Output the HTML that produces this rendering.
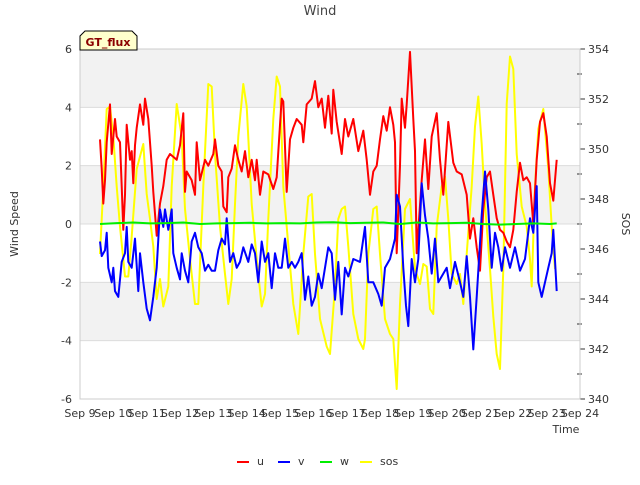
<!DOCTYPE html>
<html><head><meta charset="utf-8"><style>
body{margin:0;background:#fff;font-family:"Liberation Sans",sans-serif}
text{font-family:"DejaVu Sans","Liberation Sans",sans-serif}
</style></head><body>
<svg id="chart" width="640" height="480" xmlns="http://www.w3.org/2000/svg">
<text x="320" y="15" text-anchor="middle" font-size="13" fill="#444">Wind</text>
<g id="bands"></g><g id="axes"></g><g id="series"></g>
<text transform="translate(18,224) rotate(-90)" text-anchor="middle" font-size="11" fill="#333">Wind Speed</text>
<text transform="translate(622,224) rotate(90)" text-anchor="middle" font-size="11" fill="#333">SOS</text>
<text x="566" y="433" text-anchor="middle" font-size="11" fill="#333">Time</text>
<g>
<path d="M80,50 L80,36 L85,31 L132,31 L137,36 L137,50 Z" fill="#ffffcc" stroke="#000" stroke-width="1"/>
<text x="108" y="46" text-anchor="middle" font-size="11" font-weight="bold" fill="#8b0000">GT_flux</text>
</g>
<g id="legend"></g>
</svg>
<script>
const uDays=[9.6,9.65,9.7,9.75,9.8,9.9,9.95,10.05,10.1,10.2,10.25,10.3,10.35,10.4,10.5,10.55,10.6,10.65,10.7,10.8,10.9,10.95,11.05,11.15,11.2,11.3,11.4,11.5,11.6,11.7,11.9,12.0,12.1,12.15,12.2,12.35,12.45,12.5,12.6,12.75,12.85,13.0,13.05,13.15,13.25,13.3,13.4,13.45,13.55,13.65,13.75,13.85,13.95,14.05,14.15,14.25,14.3,14.4,14.5,14.65,14.8,14.9,15.0,15.05,15.1,15.2,15.3,15.4,15.5,15.65,15.7,15.8,15.95,16.05,16.15,16.25,16.35,16.45,16.55,16.6,16.7,16.85,16.95,17.05,17.2,17.35,17.5,17.6,17.7,17.8,17.9,18.0,18.1,18.2,18.3,18.4,18.45,18.5,18.6,18.65,18.75,18.8,18.9,19.0,19.05,19.1,19.25,19.35,19.45,19.55,19.7,19.8,19.9,20.05,20.2,20.3,20.45,20.6,20.7,20.8,20.9,21.0,21.1,21.2,21.3,21.4,21.5,21.6,21.7,21.8,21.9,22.0,22.1,22.2,22.3,22.4,22.5,22.6,22.7,22.8,22.9,23.0,23.1,23.2,23.3];
const uVals=[2.9,1.9,0.7,1.5,2.8,4.1,2.4,3.6,3.0,2.8,1.3,-0.2,1.0,3.4,2.2,2.5,1.4,2.7,3.3,4.1,3.4,4.3,3.6,2.0,1.1,-0.4,0.7,1.3,2.2,2.4,2.2,2.7,3.8,1.1,1.8,1.5,1.0,2.8,1.5,2.2,2.0,2.4,2.9,2.0,1.8,0.6,0.4,1.6,1.9,2.7,2.2,1.8,2.5,1.6,2.2,1.5,2.2,1.0,1.8,1.7,1.2,1.6,3.4,4.3,4.2,1.1,2.9,3.3,3.6,3.4,2.8,4.1,4.3,4.9,4.0,4.3,3.3,4.4,3.1,4.6,3.5,2.4,3.6,3.0,3.6,2.5,3.2,2.2,1.0,1.8,2.0,2.9,3.7,3.2,4.0,3.4,2.8,-1.0,2.0,4.3,3.3,4.1,5.9,3.6,2.5,-1.0,1.5,2.9,1.2,3.0,3.8,2.2,1.0,3.5,2.1,1.8,1.7,1.0,-0.5,0.2,-0.8,-1.6,0.5,1.6,1.8,1.0,0.2,-0.2,-0.3,-0.6,-0.8,-0.2,1.1,2.1,1.5,1.6,1.4,0.0,2.2,3.5,3.8,3.0,1.4,0.8,2.2];
const vDays=[9.6,9.65,9.75,9.8,9.85,9.95,10.0,10.05,10.15,10.25,10.35,10.4,10.45,10.55,10.65,10.75,10.8,10.9,11.0,11.1,11.2,11.3,11.4,11.5,11.55,11.65,11.75,11.8,11.9,12.0,12.05,12.15,12.25,12.35,12.45,12.55,12.65,12.75,12.85,12.95,13.05,13.15,13.25,13.35,13.4,13.5,13.6,13.7,13.8,13.9,14.05,14.15,14.25,14.35,14.45,14.55,14.65,14.75,14.85,14.95,15.05,15.15,15.25,15.35,15.45,15.55,15.65,15.75,15.85,15.95,16.05,16.15,16.25,16.35,16.45,16.55,16.65,16.75,16.85,16.95,17.05,17.2,17.4,17.55,17.65,17.8,17.95,18.05,18.15,18.3,18.45,18.5,18.6,18.7,18.78,18.85,18.95,19.05,19.15,19.25,19.35,19.45,19.55,19.65,19.75,19.9,20.0,20.1,20.25,20.4,20.5,20.6,20.7,20.8,20.9,21.05,21.15,21.25,21.35,21.45,21.55,21.65,21.75,21.9,22.05,22.2,22.35,22.5,22.6,22.7,22.75,22.85,22.95,23.05,23.15,23.2,23.3];
const vVals=[-0.6,-1.1,-0.9,-0.3,-1.5,-2.0,-1.5,-2.3,-2.5,-1.3,-1.0,-0.1,-1.3,-1.5,-0.5,-2.3,-1.0,-2.0,-2.9,-3.3,-2.5,-1.5,0.5,-0.1,0.5,-0.2,0.5,-1.0,-1.5,-1.9,-1.0,-1.6,-2.0,-0.6,-0.3,-0.8,-1.0,-1.6,-1.4,-1.6,-1.6,-0.9,-0.5,-0.7,0.2,-1.3,-1.0,-1.5,-1.3,-0.8,-1.3,-0.7,-1.0,-2.0,-0.6,-1.3,-1.0,-2.2,-1.0,-1.5,-1.5,-0.5,-1.5,-1.3,-1.5,-1.3,-1.0,-2.6,-1.8,-2.8,-2.5,-1.7,-2.2,-1.5,-0.8,-1.0,-2.6,-1.3,-3.1,-1.5,-1.8,-1.2,-1.3,-0.1,-2.0,-2.0,-2.4,-2.8,-1.5,-1.2,-0.5,1.0,0.6,-1.5,-2.8,-3.5,-1.2,-2.0,-1.2,1.4,0.3,-0.5,-1.7,-0.5,-2.0,-1.7,-1.5,-2.2,-1.3,-2.0,-2.5,-1.1,-2.5,-4.3,-2.5,0.3,1.8,0.5,-1.5,-0.3,-0.8,-1.6,-0.8,-1.5,-0.8,-1.6,-1.2,0.2,-0.3,1.3,-2.0,-2.5,-2.0,-1.5,-1.0,-0.2,-2.3];
const wDays=[9.6,10.1,10.6,11.1,11.6,12.1,12.6,13.1,13.6,14.1,14.6,15.1,15.6,16.1,16.6,17.1,17.6,18.1,18.6,19.1,19.6,20.1,20.6,21.1,21.6,22.1,22.6,23.1,23.3];
const wVals=[0.0,0.03,0.05,0.02,0.03,0.05,0.0,0.02,0.03,0.04,0.02,0.03,0.02,0.05,0.06,0.03,0.04,0.05,0.0,0.05,0.02,0.03,0.04,0.0,-0.02,0.0,0.02,0.0,0.02];
const sDays=[9.6,9.7,9.8,9.9,10.0,10.1,10.2,10.35,10.45,10.55,10.7,10.9,11.0,11.1,11.2,11.3,11.4,11.5,11.65,11.75,11.9,12.05,12.15,12.3,12.45,12.55,12.7,12.85,12.95,13.05,13.2,13.35,13.45,13.55,13.65,13.75,13.9,14.0,14.15,14.3,14.45,14.55,14.65,14.8,14.9,15.0,15.1,15.2,15.4,15.55,15.7,15.85,15.95,16.05,16.2,16.4,16.5,16.65,16.75,16.85,16.95,17.05,17.2,17.35,17.5,17.55,17.65,17.8,17.9,18.0,18.15,18.3,18.4,18.5,18.6,18.75,18.9,19.05,19.2,19.3,19.4,19.5,19.6,19.7,19.85,19.95,20.05,20.15,20.3,20.4,20.5,20.6,20.75,20.85,20.95,21.05,21.15,21.3,21.4,21.5,21.6,21.7,21.8,21.9,22.0,22.1,22.25,22.4,22.5,22.55,22.65,22.75,22.9,23.05,23.15,23.25];
const sVals=[345.8,348.5,351.6,351.7,350.5,348.5,346.9,344.9,344.9,346.5,349.2,350.2,348.2,347.2,346.1,344.0,344.8,343.7,344.5,348.5,351.8,350.5,347.6,345.6,343.8,343.8,348.5,352.6,352.5,349.8,346.9,345.0,343.8,344.8,347.8,350.5,352.6,351.7,347.8,345.6,343.7,344.2,347.2,351.2,352.9,352.5,348.5,346.9,343.8,342.6,345.8,348.1,348.2,345.8,343.2,342.1,341.8,344.5,347.2,347.6,347.7,346.1,343.4,342.4,342.0,342.4,345.8,347.6,347.7,345.8,343.2,342.6,342.4,340.4,343.8,347.6,348.0,345.2,344.6,345.4,345.3,343.6,343.4,346.9,348.5,348.9,347.2,345.0,344.6,345.0,343.8,345.8,348.5,350.9,352.1,350.2,347.8,345.2,343.3,341.8,341.2,345.2,351.8,353.7,353.2,349.8,347.7,346.9,345.6,344.5,348.5,350.8,351.6,349.2,346.9,345.2];
const xTicks=["Sep 9","Sep 10","Sep 11","Sep 12","Sep 13","Sep 14","Sep 15","Sep 16","Sep 17","Sep 18","Sep 19","Sep 20","Sep 21","Sep 22","Sep 23","Sep 24"];
const yTicks=[6,4,2,0,-2,-4,-6];
const y2Ticks=[354,352,350,348,346,344,342,340];

const L=80,R=580,T=49,B=399,NS="http://www.w3.org/2000/svg";
const X=d=>L+(d-9)*(R-L)/15;
const Y=v=>T+(6-v)*(B-T)/12;
const Y2=v=>T+(354-v)*(B-T)/14;
function mk(tag,attrs,parent){const e=document.createElementNS(NS,tag);for(const k in attrs)e.setAttribute(k,attrs[k]);parent.appendChild(e);return e;}
const bands=document.getElementById('bands'),axes=document.getElementById('axes'),series=document.getElementById('series'),legend=document.getElementById('legend');
const bg=mk('rect',{x:L,y:T,width:R-L,height:B-T,fill:'#fff'},bands);


for(let i=0;i<yTicks.length-1;i++){
  if(i%2===0){const b=mk('rect',{x:L,y:Y(yTicks[i]),width:R-L,height:Y(yTicks[i+1])-Y(yTicks[i]),fill:'#f2f2f2'},bands);
  
  }
}
yTicks.forEach(v=>{
  const g=mk('line',{x1:L,x2:R,y1:Y(v),y2:Y(v),stroke:'#dcdcdc','stroke-width':1},axes);
  
  
  const t=mk('text',{x:L-8,y:Y(v)+4,'text-anchor':'end','font-size':11,fill:'#333'},axes);t.textContent=v;
  
  
});
y2Ticks.forEach(v=>{
  const t=mk('text',{x:R+8,y:Y2(v)+4,'font-size':11,fill:'#333'},axes);t.textContent=v;
  
  
  const tk=mk('line',{x1:R,x2:R+5,y1:Y2(v),y2:Y2(v),stroke:'#333'},axes);
  
  
  if(v>340){const m=mk('line',{x1:R-3,x2:R+2,y1:Y2(v-1),y2:Y2(v-1),stroke:'#333'},axes);
  
  }
});
xTicks.forEach((s,i)=>{
  const t=mk('text',{x:X(9+i),y:B+18,'text-anchor':'middle','font-size':11,fill:'#333'},axes);t.textContent=s;
  
  
});
const fr=mk('rect',{x:L,y:T,width:R-L,height:B-T,fill:'none',stroke:'#ccc'},axes);


function line(days,vals,yf,color,name){
  const p=mk('polyline',{points:days.map((d,i)=>X(d).toFixed(1)+','+yf(vals[i]).toFixed(1)).join(' '),fill:'none',stroke:color,'stroke-width':2,'stroke-linejoin':'round'},series);
  
  
}
line(sDays,sVals,Y2,'#ffff00','series-sos');
line(uDays,uVals,Y,'#ff0000','series-u');
line(vDays,vVals,Y,'#0000ff','series-v');
line(wDays,wVals,Y,'#00ee00','series-w');
[['u','#ff0000',237],['v','#0000ff',278],['w','#00ee00',320],['sos','#ffff00',360]].forEach(([n,c,x])=>{
  const g=mk('g',{},legend);
  
  
  mk('line',{x1:x,x2:x+12,y1:462,y2:462,stroke:c,'stroke-width':2},g);
  const t=mk('text',{x:x+20,y:465,'font-size':11,fill:'#333'},g);t.textContent=n;
});
</script>
</body></html>
